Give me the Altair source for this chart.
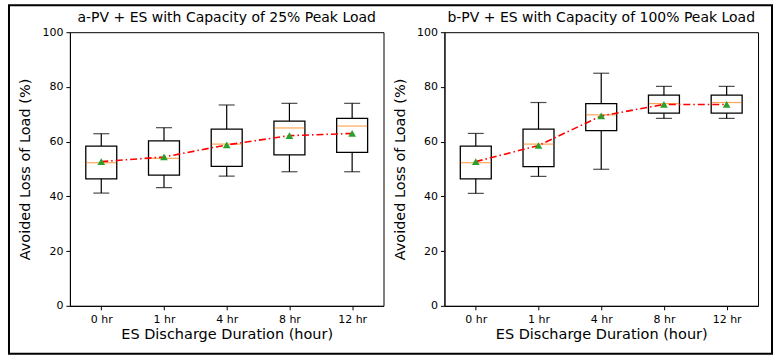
import altair as alt
import pandas as pd

cats = ["0 hr", "1 hr", "4 hr", "8 hr", "12 hr"]

# Panel a: 25% peak load
wlo_a = [41.2, 43.2, 47.4, 49.0, 49.0]
q1_a = [46.4, 47.8, 51.0, 55.2, 56.1]
med_a = [52.3, 53.9, 59.1, 65.0, 65.7]
q3_a = [58.4, 60.3, 64.6, 67.5, 68.5]
whi_a = [62.9, 65.1, 73.4, 74.0, 74.0]
mean_a = [52.7, 54.4, 58.8, 62.2, 63.0]

# Panel b: 100% peak load
wlo_b = [41.1, 47.3, 49.9, 68.5, 68.5]
q1_b = [46.4, 50.9, 64.0, 70.4, 70.4]
med_b = [52.3, 59.1, 69.8, 73.9, 74.3]
q3_b = [58.4, 64.6, 73.9, 77.0, 77.0]
whi_b = [63.0, 74.3, 85.0, 80.2, 80.2]
mean_b = [52.7, 58.6, 69.4, 73.6, 73.6]

titles = ["a-PV + ES with Capacity of 25% Peak Load",
          "b-PV + ES with Capacity of 100% Peak Load"]

FONT = "DejaVu Sans"
W, H = 314, 274


def panel(title, wlo, q1, med, q3, whi, mean, frame=False):
    df = pd.DataFrame({"cat": cats, "wlo": wlo, "q1": q1, "med": med,
                       "q3": q3, "whi": whi, "mean": mean})
    base = alt.Chart(df)
    x = alt.X("cat:N", sort=cats, scale=alt.Scale(type="point", padding=0.5),
              axis=alt.Axis(title="ES Discharge Duration (hour)", labelAngle=0))
    y_scale = alt.Scale(domain=[0, 100], nice=False)
    yax = alt.Axis(title="Avoided Loss of Load (%)", values=[0, 20, 40, 60, 80, 100])
    whisk = base.mark_rule(color="black", strokeWidth=1.2).encode(
        x=x, y=alt.Y("wlo:Q", scale=y_scale, axis=yax), y2="whi:Q")
    box = base.mark_bar(size=31, fill="white", stroke="black", strokeWidth=1.3).encode(
        x=x, y="q1:Q", y2="q3:Q")
    cap_lo = base.mark_tick(color="black", size=16, thickness=1.2, orient="horizontal").encode(
        x=x, y="wlo:Q")
    cap_hi = base.mark_tick(color="black", size=16, thickness=1.2, orient="horizontal").encode(
        x=x, y="whi:Q")
    median = base.mark_tick(color="#ff7f0e", size=30, thickness=1.2, orient="horizontal").encode(
        x=x, y="med:Q")
    line = base.mark_line(color="red", strokeWidth=1.6, strokeDash=[7, 3, 1.5, 3]).encode(
        x=x, y="mean:Q")
    pts = base.mark_point(shape="triangle-up", filled=True, color="#2ca02c", size=60, opacity=1).encode(
        x=x, y="mean:Q")
    ttl = alt.Chart(pd.DataFrame({"t": [title]})).mark_text(
        font=FONT, fontSize=14, color="black", align="center", baseline="middle").encode(
        text="t:N", x=alt.value(W / 2), y=alt.value(-14))
    layers = [whisk, box, cap_lo, cap_hi, median, line, pts, ttl]
    if frame:
        fr = alt.Chart(pd.DataFrame({"k": [0]})).mark_rect(
            fill=None, stroke="black", strokeWidth=2, clip=False).encode(
            x=alt.value(8 - 69), x2=alt.value(772 - 69),
            y=alt.value(4 - 31), y2=alt.value(353 - 31))
        layers.append(fr)
    return alt.layer(*layers).properties(width=W, height=H)


left = panel(titles[0], wlo_a, q1_a, med_a, q3_a, whi_a, mean_a, frame=True)
right = panel(titles[1], wlo_b, q1_b, med_b, q3_b, whi_b, mean_b)

chart = alt.hconcat(left, right, spacing=61, bounds="flush").configure(
    font=FONT, background="white", padding={"left": 7, "top": 3, "right": 0, "bottom": 0}
).configure_view(stroke="black", strokeWidth=1).configure_axis(
    domainColor="black", tickColor="black", labelColor="black", titleColor="black",
    labelFont=FONT, titleFont=FONT, labelFontSize=11, titleFontSize=14.5,
    titleFontWeight="normal", grid=False, tickSize=4, labelPadding=3, domainWidth=1,
    tickWidth=1
).configure_axisX(titlePadding=3, labelPadding=4).configure_axisY(titlePadding=9)

chart.save("out.html", embed_options={"renderer": "svg", "actions": False})
